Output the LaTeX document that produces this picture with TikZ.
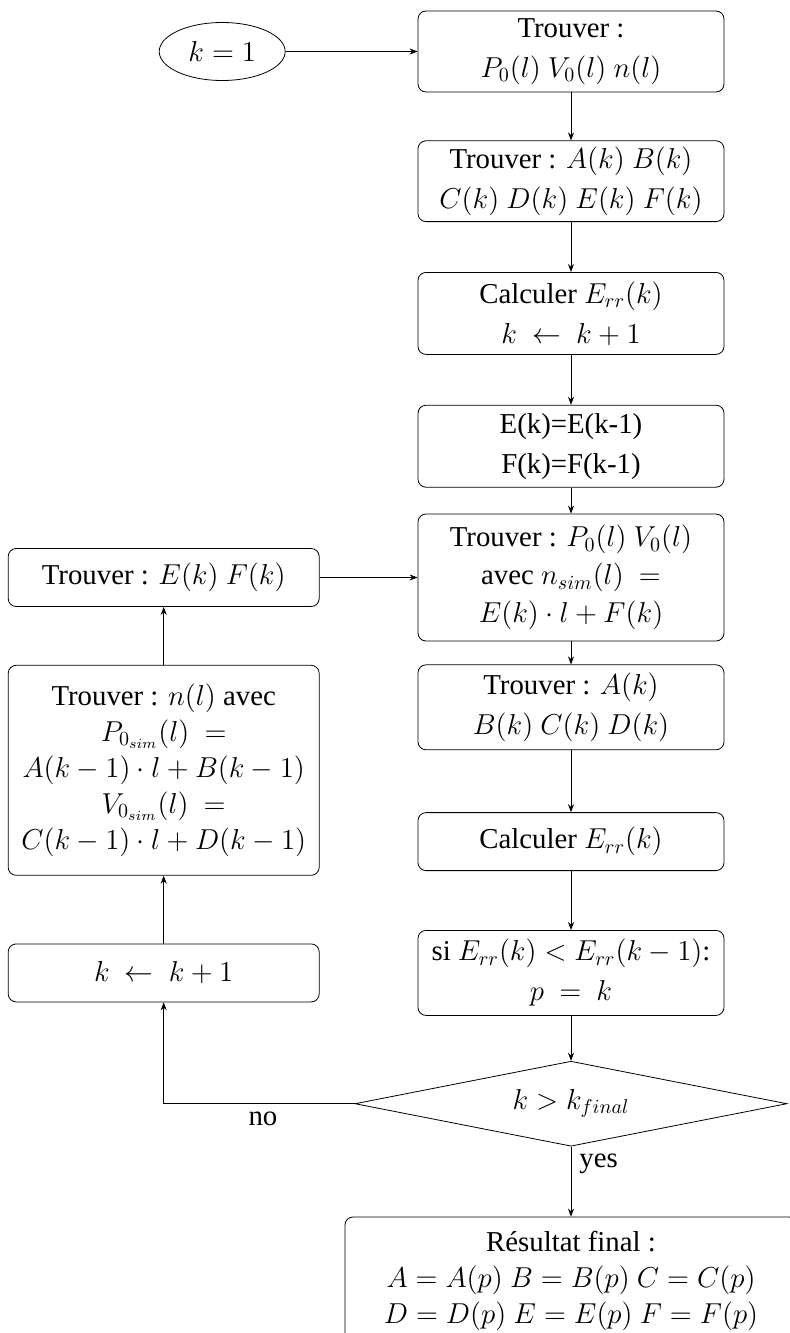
\documentclass[tikz,border=0pt,12pt]{standalone}
\usepackage{fontspec}
\setmainfont{Liberation Serif}
\usetikzlibrary{arrows.meta,shapes.geometric,positioning}
\tikzset{
  stepbox/.style={draw, rounded corners=4pt, align=center,
                  minimum width=153pt, minimum height=#1,
                  font=\large, inner sep=3pt},
  stepbox/.default=29pt,
  loopbox/.style={stepbox=#1, minimum width=155.5pt},
  loopbox/.default=29pt,
  startnode/.style={draw, ellipse, minimum width=63pt, minimum height=29pt,
                  font=\large, inner sep=1pt},
  testnode/.style={draw, diamond, aspect=5, minimum width=216pt, minimum height=42.5pt,
                  font=\large, inner sep=0pt},
  lbl/.style={font=\large},
  arr/.style={-{Stealth[length=4pt,width=3pt]}},
}
\begin{document}
\begin{tikzpicture}
  \useasboundingbox (0,0) rectangle (394.5pt,-666.5pt);
  %% main column
  \node[stepbox=40.5pt] (find0) at (285.5pt,-25.75pt) {Trouver :\\[2pt] $P_0(l)\ V_0(l)\ n(l)$};
  \node[startnode, left=66pt of find0] (start) {$k=1$};
  \node[stepbox=40pt, below=24pt of find0] (findAF) {Trouver : $A(k)\ B(k)$\\[2pt] $C(k)\ D(k)\ E(k)\ F(k)$};
  \node[stepbox=41pt, below=25pt of findAF] (err1) {Calculer $E_{rr}(k)$\\[2pt] $k\ \leftarrow\ k+1$};
  \node[stepbox=41pt, below=25pt of err1] (keepEF) {E(k)=E(k-1)\\[2pt] F(k)=F(k-1)};
  \node[stepbox=63.5pt, below=13pt of keepEF] (findPV) {Trouver : $P_0(l)\ V_0(l)$\\[1pt] avec $n_{sim}(l)\ =$\\[1pt] $E(k)\cdot l+F(k)$};
  \node[stepbox=42.5pt, below=11.5pt of findPV] (findAD) {Trouver : $A(k)$\\[2pt] $B(k)\ C(k)\ D(k)$};
  \node[stepbox, below=31pt of findAD] (err2) {Calculer $E_{rr}(k)$};
  \node[stepbox=42.5pt, below=29.5pt of err2] (best) {si $E_{rr}(k)<E_{rr}(k-1)$:\\[2pt] $p\ =\ k$};
  \node[testnode, below=22.5pt of best] (test) {$k>k_{final}$};
  \node[stepbox=64pt, minimum width=226pt, below=35pt of test] (result) {Résultat final :\\ $A=A(p)\ B=B(p)\ C=C(p)$\\ $D=D(p)\ E=E(p)\ F=F(p)$};
  %% loop column
  \node[loopbox, left=49pt of findPV] (findEF) {Trouver : $E(k)\ F(k)$};
  \node[loopbox=105pt, below=29pt of findEF] (findn) {Trouver : $n(l)$ avec\\ $P_{0_{sim}}(l)\ =$\\ $A(k-1)\cdot l+B(k-1)$\\ $V_{0_{sim}}(l)\ =$\\ $C(k-1)\cdot l+D(k-1)$};
  \node[loopbox, left=49pt of best] (incr) {$k\ \leftarrow\ k+1$};
  %% arrows
  \draw[arr] (start) -- (find0);
  \draw[arr] (find0) -- (findAF);
  \draw[arr] (findAF) -- (err1);
  \draw[arr] (err1) -- (keepEF);
  \draw[arr] (keepEF) -- (findPV);
  \draw[arr] (findPV) -- (findAD);
  \draw[arr] (findAD) -- (err2);
  \draw[arr] (err2) -- (best);
  \draw[arr] (best) -- (test);
  \draw[arr] (test) -- node[lbl, right, pos=0.25] {yes} (result);
  \draw[arr] (test.west) -| node[lbl, below, pos=0.24] {no} (incr.south);
  \draw[arr] (incr) -- (findn);
  \draw[arr] (findn) -- (findEF);
  \draw[arr] (findEF) -- (findPV);
\end{tikzpicture}
\end{document}
